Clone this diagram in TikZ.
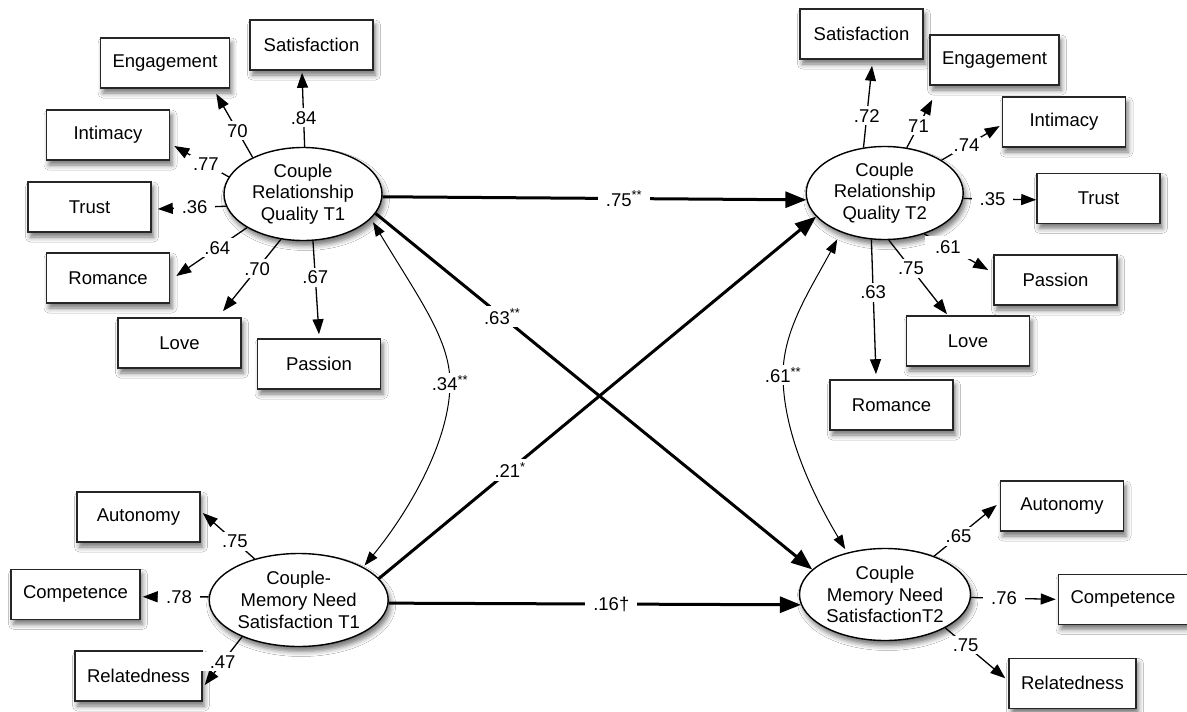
\documentclass[tikz,border=0pt]{standalone}
\usepackage{fontspec}
\setmainfont{Liberation Sans}
\usetikzlibrary{arrows.meta,shapes.geometric,shadows.blur}
\tikzset{
  box/.style={draw=black!85, line width=1.6pt, fill=white, minimum width=123pt,
    minimum height=50pt, inner xsep=12pt,
    blur shadow={shadow xshift=2.5pt, shadow yshift=-5pt, shadow blur radius=5pt, shadow opacity=55}},
  lat/.style={ellipse, draw=black, line width=1.4pt, fill=white, inner sep=0pt, align=center,
    blur shadow={shadow xshift=2.5pt, shadow yshift=-5pt, shadow blur radius=5pt, shadow opacity=55}},
  loadarr/.style={line width=1.3pt, -{Triangle[length=15pt,width=11pt]}},
  regarr/.style={line width=3pt, -{Triangle[length=21pt,width=16pt]}},
  covarr/.style={line width=1pt, {Triangle[length=14pt,width=10pt]}-{Triangle[length=14pt,width=10pt]}},
  lab/.style={fill=white, inner sep=3pt},
}
\begin{document}
\begin{tikzpicture}[x=1pt,y=-1pt,font=\fontsize{18.5}{21.7}\selectfont]
\useasboundingbox (0,0) rectangle (1187,712);
\fill[white] (0,0) rectangle (1187,712);

% latent variables
\node[lat, minimum width=158pt, minimum height=93pt] (t1) at (303,194) {Couple\\Relationship\\Quality T1};
\node[lat, minimum width=157pt, minimum height=93pt] (t2) at (884.7,193) {Couple\\Relationship\\Quality T2};
\node[lat, minimum width=179pt, minimum height=93pt] (c1) at (298.7,600) {Couple-\\Memory Need\\Satisfaction T1};
\node[lat, minimum width=171pt, minimum height=92pt] (c2) at (885,594.5) {Couple\\Memory Need\\SatisfactionT2};

% indicators T1
\node[box] (eng1) at (165,63) {Engagement};
\node[box] (sat1) at (311.5,45) {Satisfaction};
\node[box] (int1) at (108,135) {Intimacy};
\node[box] (tru1) at (89.5,207) {Trust};
\node[box] (rom1) at (108,278) {Romance};
\node[box] (lov1) at (179.5,343) {Love};
\node[box] (pas1) at (319,364) {Passion};

% indicators T2
\node[box] (sat2) at (861.5,34) {Satisfaction};
\node[box] (eng2) at (994.5,60) {Engagement};
\node[box] (int2) at (1064,122) {Intimacy};
\node[box] (tru2) at (1098.5,198.3) {Trust};
\node[box] (pas2) at (1055.5,280) {Passion};
\node[box] (lov2) at (968,341) {Love};
\node[box] (rom2) at (891.5,405) {Romance};

% indicators need satisfaction
\node[box] (aut1) at (138.5,517) {Autonomy};
\node[box] (com1) at (75.5,594.3) {Competence};
\node[box] (rel1) at (138.5,676) {Relatedness};
\node[box] (aut2) at (1062,506) {Autonomy};
\node[box] (com2) at (1123,599.3) {Competence};
\node[box] (rel2) at (1072.5,683.3) {Relatedness};

% loadings T1
\draw[loadarr] (t1.88) -- node[lab,pos=.39] (l1) {.84} ([xshift=-9.5pt,yshift=-2pt]sat1.south);
\draw[loadarr] (t1.144) -- node[lab,pos=.42] (l2) {70} ([xshift=-14pt,yshift=-5pt]eng1.south east);
\draw[loadarr] (t1.167) -- node[lab,pos=.42] (l3) {.77} ([xshift=4pt,yshift=-11pt]int1.east);
\draw[loadarr] (t1.189) -- node[lab,pos=.46,inner xsep=8pt] (l4) {.36} ([xshift=6pt,yshift=-2pt]tru1.east);
\draw[loadarr] (t1.211) -- node[lab,pos=.42] (l5) {.64} ([xshift=6pt,yshift=2pt]rom1.east);
\draw[loadarr] (t1.244) -- node[lab,pos=.41] (l6) {.70} ([xshift=43.5pt,yshift=6pt]lov1.north);
\draw[loadarr] (t1.282) -- node[lab,pos=.39] (l7) {.67} ([yshift=4pt]pas1.north);

% loadings T2
\draw[loadarr] (t2.115) -- node[lab,pos=.39] (m1) {.72} ([xshift=10.5pt,yshift=-6pt]sat2.south);
\draw[loadarr] (t2.64) -- node[lab,pos=.46] (m2) {71} ([xshift=3pt,yshift=-14pt]eng2.south west);
\draw[loadarr] (t2.30) -- node[lab,pos=.43,inner sep=2pt] (m3) {.74} ([xshift=-2pt,yshift=-4pt]int2.west);
\draw[loadarr] (t2.356) -- node[lab,pos=.4,inner xsep=8pt] (m4) {.35} ([yshift=-1.5pt]tru2.west);
\draw[loadarr] (t2.314) -- node[lab,pos=.37,inner xsep=10pt,inner ysep=5pt] (m5) {.61} ([xshift=-5pt,yshift=10pt]pas2.west);
\draw[loadarr] (t2.275) -- node[lab,pos=.38] (m6) {.75} ([xshift=-21pt,yshift=1pt]lov2.north);
\draw[loadarr] (t2.254) -- node[lab,pos=.39] (m7) {.63} ([xshift=-15.5pt,yshift=5pt]rom2.north);

% loadings need satisfaction
\draw[loadarr] (c1.137) -- node[lab,pos=.38] (n1) {.75} ([xshift=2pt,yshift=4pt]aut1.east);
\draw[loadarr] (c1.178) -- node[lab,pos=.45,inner xsep=8pt] (n2) {.78} ([xshift=2pt,yshift=-2.5pt]com1.east);
\draw[loadarr] (c1.213) -- node[lab,pos=.52,inner xsep=9pt] (n3) {.47} ([xshift=2pt,yshift=-9pt]rel1.east);
\draw[loadarr] (c2.38) -- node[lab,pos=.39] (o1) {.65} ([xshift=-3pt,yshift=1pt]aut2.west);
\draw[loadarr] (c2.358) -- node[lab,pos=.39,inner xsep=8pt] (o2) {.76} ([xshift=-2pt]com2.west);
\draw[loadarr] (c2.331) -- node[lab,pos=.34] (o3) {.75} ([xshift=-3pt,yshift=5pt]rel2.west);

% structural paths
\draw[regarr] (t1.358) -- node[lab,pos=.57,inner xsep=8pt] (p1) {.75\textsuperscript{**}} (t2.185);
\draw[regarr] (t1.345) -- node[lab,pos=.29] (p2) {.63\textsuperscript{**}} (c2.161);
\draw[regarr] (c1.15) -- node[lab,pos=.30] (p3) {.21\textsuperscript{*}} (t2.199);
\draw[regarr] (c1.358) -- node[lab,pos=.54,inner xsep=8pt] (p4) {.16†} (c2.187);

% covariances
\draw[covarr, shorten <=4pt, shorten >=2pt] (t1.340) .. controls (420,300) and (450,340) .. (450,383)
  node[lab,inner sep=2pt] (q1) {.34\textsuperscript{**}}
  .. controls (450,440) and (410,510) .. (c1.27);
\draw[covarr, shorten <=8pt, shorten >=4pt] (t2.222) .. controls (810,290) and (783,330) .. (783,375)
  node[lab,inner sep=2pt] (q2) {.61\textsuperscript{**}}
  .. controls (783,430) and (810,490) .. (c2.132);
\end{tikzpicture}
\end{document}
